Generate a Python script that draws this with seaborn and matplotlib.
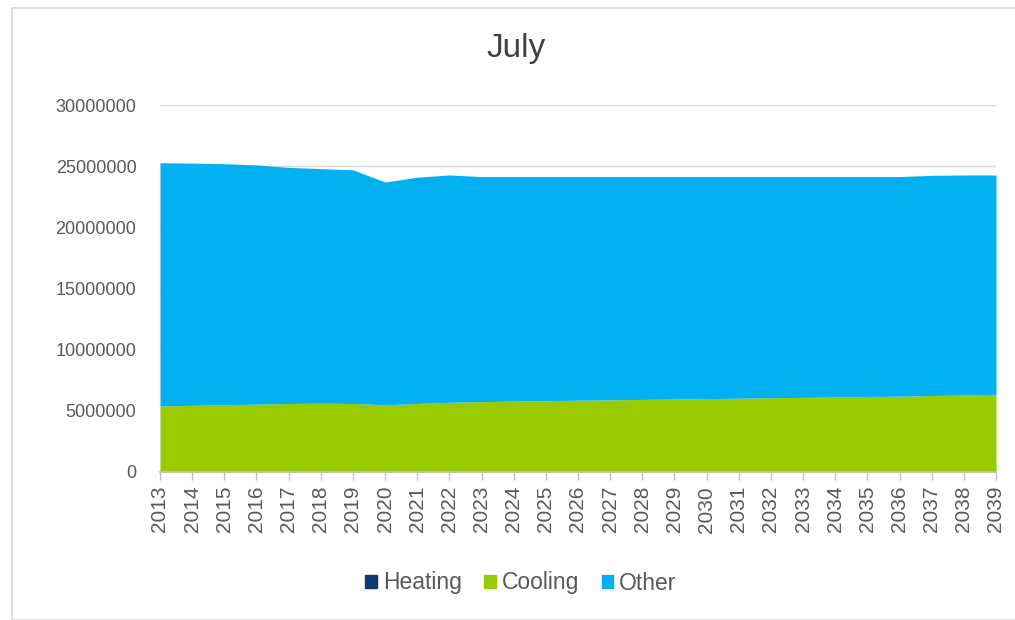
import numpy as np
import pandas as pd
import matplotlib
matplotlib.use("Agg")
import matplotlib.pyplot as plt
from matplotlib.patches import Rectangle
from matplotlib.ticker import FuncFormatter
import seaborn as sns

# Data
years = list(range(2013, 2040))
heating = [0] * len(years)
cooling = [5.40, 5.45, 5.50, 5.55, 5.60, 5.62, 5.60, 5.50, 5.60, 5.70,
           5.75, 5.80, 5.83, 5.87, 5.90, 5.93, 5.97, 6.00, 6.03, 6.07,
           6.10, 6.13, 6.17, 6.20, 6.25, 6.30, 6.35]
total = [25.28, 25.25, 25.20, 25.10, 24.90, 24.80, 24.70, 23.70, 24.10, 24.28,
         24.15, 24.15, 24.15, 24.15, 24.15, 24.15, 24.15, 24.15, 24.15, 24.15,
         24.15, 24.15, 24.15, 24.15, 24.25, 24.28, 24.28]

df = pd.DataFrame({"Year": years, "Heating": heating, "Cooling": cooling, "Total": total})
df[["Cooling", "Total"]] *= 1e6
df["Other"] = df["Total"] - df["Cooling"] - df["Heating"]

colors = {"Heating": "#0B3A6E", "Cooling": "#99CC00", "Other": "#00B0F0"}
series = ["Heating", "Cooling", "Other"]

sns.set_theme(style="white")
plt.rcParams["font.family"] = ["Liberation Sans", "DejaVu Sans"]

fig = plt.figure(figsize=(10.15, 6.2), dpi=100)
ax = fig.add_axes([160 / 1015, 1 - 472 / 620, (996 - 160) / 1015, (472 - 105) / 620])

ax.stackplot(df["Year"], *[df[s] for s in series],
             colors=[colors[s] for s in series], labels=series, linewidth=0)

ax.set_xlim(2013, 2039)
ax.set_ylim(0, 30000000)
ax.set_yticks(np.arange(0, 30000001, 5000000))
ax.yaxis.set_major_formatter(FuncFormatter(lambda v, p: f"{int(v)}"))
ax.set_xticks(years)
ax.set_xticklabels([str(y) for y in years], rotation=90)
ax.tick_params(axis="y", colors="#595959", labelsize=13, length=0, pad=17)
ax.tick_params(axis="x", colors="#BFBFBF", labelcolor="#595959", labelsize=15,
               length=6, width=1, pad=4, direction="out", bottom=True)
ax.grid(axis="y", color="#D9D9D9", linewidth=1)
ax.set_axisbelow(True)
for side in ["top", "right", "left"]:
    ax.spines[side].set_visible(False)
ax.spines["bottom"].set_color("#BFBFBF")

fig.text(516 / 1015, 1 - 49 / 620, "July", ha="center", va="center", fontsize=24, color="#404040")

handles = [Rectangle((0, 0), 1, 1, color=colors[s]) for s in series]
fig.legend(handles, series, loc="center", bbox_to_anchor=(521 / 1015, 1 - 583 / 620), ncol=3,
           frameon=False, fontsize=16.5, handlelength=0.5, handleheight=0.5,
           handletextpad=0.25, columnspacing=1.0, labelcolor="#595959")

# chart frame
fig.patches.append(Rectangle((12 / 1015, 0), 1.2, 1 - 8 / 620, transform=fig.transFigure,
                             fill=False, edgecolor="#D9D9D9", linewidth=1.2))

fig.savefig("out.png", dpi=100)
